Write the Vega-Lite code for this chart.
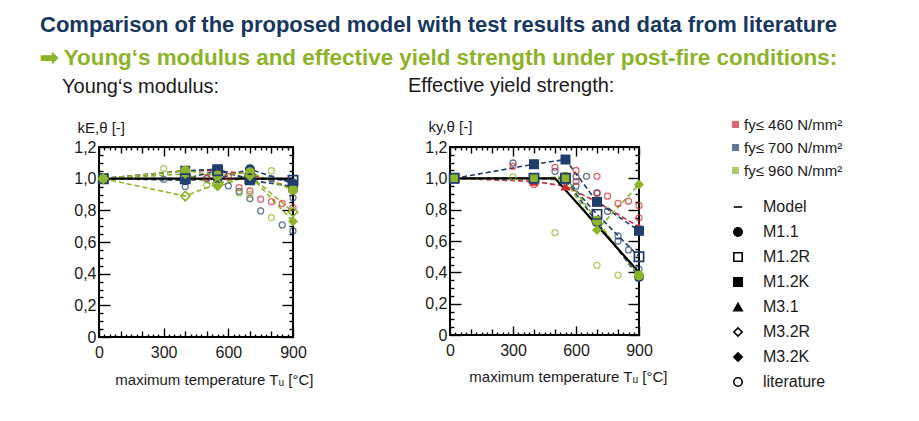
{
  "$schema": "https://vega.github.io/schema/vega-lite/v6.json",
  "background": "white",
  "padding": {"left": 40, "top": 14, "right": 5, "bottom": 5},
  "title": {
    "text": "Comparison of the proposed model with test results and data from literature",
    "subtitle": "➡ Young‘s modulus and effective yield strength under post-fire conditions:",
    "anchor": "start",
    "frame": "group",
    "dx": -59,
    "font": "Liberation Sans Narrow, Liberation Sans",
    "fontSize": 22,
    "fontWeight": "bold",
    "color": "#17375e",
    "subtitleFont": "Liberation Sans Narrow, Liberation Sans",
    "subtitleFontSize": 22.4,
    "subtitleFontWeight": "bold",
    "subtitleColor": "#8cb327",
    "subtitlePadding": 10,
    "offset": 4.5
  },
  "datasets": {
    "modelE": [{"T": 20, "k": 1.0, "type": "Model"}, {"T": 900, "k": 1.0, "type": "Model"}],
    "modelY": [{"T": 20, "k": 1.0, "type": "Model"}, {"T": 500, "k": 1.0, "type": "Model"}, {"T": 900, "k": 0.4, "type": "Model"}],
    "testE": [
      {"steel": "fy≤ 460 N/mm²", "type": "M3.1", "T": 20, "k": 1.0},
      {"steel": "fy≤ 460 N/mm²", "type": "M3.1", "T": 400, "k": 1.05},
      {"steel": "fy≤ 460 N/mm²", "type": "M3.1", "T": 550, "k": 1.05},
      {"steel": "fy≤ 460 N/mm²", "type": "M3.1", "T": 700, "k": 1.03},
      {"steel": "fy≤ 460 N/mm²", "type": "M3.1", "T": 900, "k": 0.94},
      {"steel": "fy≤ 700 N/mm²", "type": "M1.2K", "T": 20, "k": 1.0},
      {"steel": "fy≤ 700 N/mm²", "type": "M1.2K", "T": 400, "k": 1.05},
      {"steel": "fy≤ 700 N/mm²", "type": "M1.2K", "T": 550, "k": 1.06},
      {"steel": "fy≤ 700 N/mm²", "type": "M1.2K", "T": 700, "k": 0.99},
      {"steel": "fy≤ 700 N/mm²", "type": "M1.2K", "T": 900, "k": 0.95},
      {"steel": "fy≤ 700 N/mm²", "type": "M1.1", "T": 20, "k": 1.0},
      {"steel": "fy≤ 700 N/mm²", "type": "M1.1", "T": 400, "k": 0.99},
      {"steel": "fy≤ 700 N/mm²", "type": "M1.1", "T": 550, "k": 1.0},
      {"steel": "fy≤ 700 N/mm²", "type": "M1.1", "T": 700, "k": 1.06},
      {"steel": "fy≤ 700 N/mm²", "type": "M1.1", "T": 900, "k": 0.97},
      {"steel": "fy≤ 700 N/mm²", "type": "M1.2R", "T": 20, "k": 1.0},
      {"steel": "fy≤ 700 N/mm²", "type": "M1.2R", "T": 400, "k": 1.0},
      {"steel": "fy≤ 700 N/mm²", "type": "M1.2R", "T": 550, "k": 1.05},
      {"steel": "fy≤ 700 N/mm²", "type": "M1.2R", "T": 700, "k": 1.0},
      {"steel": "fy≤ 700 N/mm²", "type": "M1.2R", "T": 900, "k": 0.99},
      {"steel": "fy≤ 960 N/mm²", "type": "M3.2R", "T": 20, "k": 1.0},
      {"steel": "fy≤ 960 N/mm²", "type": "M3.2R", "T": 400, "k": 0.89},
      {"steel": "fy≤ 960 N/mm²", "type": "M3.2R", "T": 550, "k": 0.97},
      {"steel": "fy≤ 960 N/mm²", "type": "M3.2R", "T": 700, "k": 1.02},
      {"steel": "fy≤ 960 N/mm²", "type": "M3.2R", "T": 900, "k": 0.79},
      {"steel": "fy≤ 960 N/mm²", "type": "M3.2K", "T": 20, "k": 1.0},
      {"steel": "fy≤ 960 N/mm²", "type": "M3.2K", "T": 400, "k": 1.03},
      {"steel": "fy≤ 960 N/mm²", "type": "M3.2K", "T": 550, "k": 0.95},
      {"steel": "fy≤ 960 N/mm²", "type": "M3.2K", "T": 700, "k": 1.02},
      {"steel": "fy≤ 960 N/mm²", "type": "M3.2K", "T": 900, "k": 0.73},
      {"steel": "fy≤ 960 N/mm²", "type": "M1.1", "T": 20, "k": 1.0},
      {"steel": "fy≤ 960 N/mm²", "type": "M1.1", "T": 400, "k": 1.05},
      {"steel": "fy≤ 960 N/mm²", "type": "M1.1", "T": 550, "k": 1.02},
      {"steel": "fy≤ 960 N/mm²", "type": "M1.1", "T": 700, "k": 1.04},
      {"steel": "fy≤ 960 N/mm²", "type": "M1.1", "T": 900, "k": 0.93}
    ],
    "testY": [
      {"steel": "fy≤ 460 N/mm²", "type": "M3.1", "T": 20, "k": 1.0},
      {"steel": "fy≤ 460 N/mm²", "type": "M3.1", "T": 400, "k": 0.98},
      {"steel": "fy≤ 460 N/mm²", "type": "M3.1", "T": 550, "k": 0.95},
      {"steel": "fy≤ 460 N/mm²", "type": "M3.1", "T": 700, "k": 0.85},
      {"steel": "fy≤ 460 N/mm²", "type": "M3.1", "T": 900, "k": 0.69},
      {"steel": "fy≤ 700 N/mm²", "type": "M1.2K", "T": 20, "k": 1.0},
      {"steel": "fy≤ 700 N/mm²", "type": "M1.2K", "T": 400, "k": 1.09},
      {"steel": "fy≤ 700 N/mm²", "type": "M1.2K", "T": 550, "k": 1.12},
      {"steel": "fy≤ 700 N/mm²", "type": "M1.2K", "T": 700, "k": 0.85},
      {"steel": "fy≤ 700 N/mm²", "type": "M1.2K", "T": 900, "k": 0.665},
      {"steel": "fy≤ 700 N/mm²", "type": "M1.2R", "T": 20, "k": 1.0},
      {"steel": "fy≤ 700 N/mm²", "type": "M1.2R", "T": 400, "k": 1.0},
      {"steel": "fy≤ 700 N/mm²", "type": "M1.2R", "T": 550, "k": 1.0},
      {"steel": "fy≤ 700 N/mm²", "type": "M1.2R", "T": 700, "k": 0.77},
      {"steel": "fy≤ 700 N/mm²", "type": "M1.2R", "T": 900, "k": 0.5},
      {"steel": "fy≤ 700 N/mm²", "type": "M1.1", "T": 20, "k": 1.0},
      {"steel": "fy≤ 700 N/mm²", "type": "M1.1", "T": 400, "k": 1.0},
      {"steel": "fy≤ 700 N/mm²", "type": "M1.1", "T": 550, "k": 0.99},
      {"steel": "fy≤ 700 N/mm²", "type": "M1.1", "T": 700, "k": 0.72},
      {"steel": "fy≤ 700 N/mm²", "type": "M1.1", "T": 900, "k": 0.37},
      {"steel": "fy≤ 960 N/mm²", "type": "M1.1", "T": 20, "k": 1.0},
      {"steel": "fy≤ 960 N/mm²", "type": "M1.1", "T": 400, "k": 1.0},
      {"steel": "fy≤ 960 N/mm²", "type": "M1.1", "T": 550, "k": 1.01},
      {"steel": "fy≤ 960 N/mm²", "type": "M1.1", "T": 700, "k": 0.73},
      {"steel": "fy≤ 960 N/mm²", "type": "M1.1", "T": 900, "k": 0.38},
      {"steel": "fy≤ 960 N/mm²", "type": "M3.2K", "T": 20, "k": 1.0},
      {"steel": "fy≤ 960 N/mm²", "type": "M3.2K", "T": 400, "k": 1.0},
      {"steel": "fy≤ 960 N/mm²", "type": "M3.2K", "T": 550, "k": 0.99},
      {"steel": "fy≤ 960 N/mm²", "type": "M3.2K", "T": 700, "k": 0.67},
      {"steel": "fy≤ 960 N/mm²", "type": "M3.2K", "T": 900, "k": 0.96}
    ],
    "litE": [
      {"steel": "fy≤ 700 N/mm²", "type": "literature", "T": 300, "k": 0.996},
      {"steel": "fy≤ 700 N/mm²", "type": "literature", "T": 400, "k": 0.95},
      {"steel": "fy≤ 700 N/mm²", "type": "literature", "T": 400, "k": 0.99},
      {"steel": "fy≤ 700 N/mm²", "type": "literature", "T": 500, "k": 1.0},
      {"steel": "fy≤ 700 N/mm²", "type": "literature", "T": 600, "k": 0.955},
      {"steel": "fy≤ 700 N/mm²", "type": "literature", "T": 650, "k": 0.92},
      {"steel": "fy≤ 700 N/mm²", "type": "literature", "T": 700, "k": 0.874},
      {"steel": "fy≤ 700 N/mm²", "type": "literature", "T": 750, "k": 0.796},
      {"steel": "fy≤ 700 N/mm²", "type": "literature", "T": 800, "k": 1.0},
      {"steel": "fy≤ 700 N/mm²", "type": "literature", "T": 850, "k": 0.708},
      {"steel": "fy≤ 700 N/mm²", "type": "literature", "T": 900, "k": 0.88},
      {"steel": "fy≤ 700 N/mm²", "type": "literature", "T": 900, "k": 0.67},
      {"steel": "fy≤ 460 N/mm²", "type": "literature", "T": 500, "k": 1.006},
      {"steel": "fy≤ 460 N/mm²", "type": "literature", "T": 600, "k": 1.013},
      {"steel": "fy≤ 460 N/mm²", "type": "literature", "T": 650, "k": 0.943},
      {"steel": "fy≤ 460 N/mm²", "type": "literature", "T": 700, "k": 0.922},
      {"steel": "fy≤ 460 N/mm²", "type": "literature", "T": 750, "k": 0.87},
      {"steel": "fy≤ 460 N/mm²", "type": "literature", "T": 800, "k": 0.855},
      {"steel": "fy≤ 460 N/mm²", "type": "literature", "T": 850, "k": 0.843},
      {"steel": "fy≤ 460 N/mm²", "type": "literature", "T": 900, "k": 0.817},
      {"steel": "fy≤ 960 N/mm²", "type": "literature", "T": 300, "k": 1.065},
      {"steel": "fy≤ 960 N/mm²", "type": "literature", "T": 500, "k": 0.96},
      {"steel": "fy≤ 960 N/mm²", "type": "literature", "T": 650, "k": 0.91},
      {"steel": "fy≤ 960 N/mm²", "type": "literature", "T": 700, "k": 0.9},
      {"steel": "fy≤ 960 N/mm²", "type": "literature", "T": 800, "k": 0.754},
      {"steel": "fy≤ 960 N/mm²", "type": "literature", "T": 800, "k": 1.05}
    ],
    "litY": [
      {"steel": "fy≤ 700 N/mm²", "type": "literature", "T": 300, "k": 1.098},
      {"steel": "fy≤ 700 N/mm²", "type": "literature", "T": 500, "k": 1.045},
      {"steel": "fy≤ 700 N/mm²", "type": "literature", "T": 600, "k": 1.01},
      {"steel": "fy≤ 700 N/mm²", "type": "literature", "T": 600, "k": 0.95},
      {"steel": "fy≤ 700 N/mm²", "type": "literature", "T": 650, "k": 1.013},
      {"steel": "fy≤ 700 N/mm²", "type": "literature", "T": 700, "k": 0.907},
      {"steel": "fy≤ 700 N/mm²", "type": "literature", "T": 750, "k": 0.79},
      {"steel": "fy≤ 700 N/mm²", "type": "literature", "T": 800, "k": 0.632},
      {"steel": "fy≤ 700 N/mm²", "type": "literature", "T": 800, "k": 0.6},
      {"steel": "fy≤ 700 N/mm²", "type": "literature", "T": 850, "k": 0.543},
      {"steel": "fy≤ 700 N/mm²", "type": "literature", "T": 900, "k": 0.42},
      {"steel": "fy≤ 460 N/mm²", "type": "literature", "T": 300, "k": 1.077},
      {"steel": "fy≤ 460 N/mm²", "type": "literature", "T": 400, "k": 0.96},
      {"steel": "fy≤ 460 N/mm²", "type": "literature", "T": 400, "k": 0.99},
      {"steel": "fy≤ 460 N/mm²", "type": "literature", "T": 500, "k": 1.07},
      {"steel": "fy≤ 460 N/mm²", "type": "literature", "T": 600, "k": 1.05},
      {"steel": "fy≤ 460 N/mm²", "type": "literature", "T": 600, "k": 0.98},
      {"steel": "fy≤ 460 N/mm²", "type": "literature", "T": 700, "k": 1.013},
      {"steel": "fy≤ 460 N/mm²", "type": "literature", "T": 700, "k": 0.907},
      {"steel": "fy≤ 460 N/mm²", "type": "literature", "T": 750, "k": 0.886},
      {"steel": "fy≤ 460 N/mm²", "type": "literature", "T": 800, "k": 0.84},
      {"steel": "fy≤ 460 N/mm²", "type": "literature", "T": 850, "k": 0.854},
      {"steel": "fy≤ 460 N/mm²", "type": "literature", "T": 900, "k": 0.826},
      {"steel": "fy≤ 460 N/mm²", "type": "literature", "T": 900, "k": 0.748},
      {"steel": "fy≤ 960 N/mm²", "type": "literature", "T": 300, "k": 1.009},
      {"steel": "fy≤ 960 N/mm²", "type": "literature", "T": 500, "k": 0.653},
      {"steel": "fy≤ 960 N/mm²", "type": "literature", "T": 700, "k": 0.445},
      {"steel": "fy≤ 960 N/mm²", "type": "literature", "T": 800, "k": 0.382}
    ]
  },
  "spacing": 157,
  "bounds": "flush",
  "hconcat": [
    {
      "title": {"text": "Young‘s modulus:", "anchor": "start", "frame": "group", "dx": -37, "offset": 23, "fontSize": 20, "fontWeight": "normal", "color": "#1a1a1a", "font": "Liberation Sans"},
      "width": 194,
      "height": 190,
      "resolve": {"axis": {"x": "independent", "y": "independent"}},
      "layer": [
        {
          "data": {"name": "testE"},
          "mark": {"type": "line", "strokeDash": [5, 3], "strokeWidth": 1.6},
          "encoding": {
            "x": {"field": "T", "type": "quantitative", "scale": {"domain": [0, 900], "nice": false},
              "axis": {"orient": "bottom", "values": [0,25,50,75,100,125,150,175,200,225,250,275,300,325,350,375,400,425,450,475,500,525,550,575,600,625,650,675,700,725,750,775,800,825,850,875,900],
                "labelExpr": "datum.value % 300 === 0 ? datum.value : ''", "labelPadding": 16,
                "tickSize": {"condition": [{"test": "datum.value % 300 === 0", "value": -9}, {"test": "datum.value % 100 === 0", "value": -6}], "value": -3},
                "title": "maximum temperature Tᵤ [°C]", "titleAlign": "right", "titleAnchor": "start", "titleX": 214, "titleY": 47, "titleBaseline": "alphabetic"}},
            "y": {"field": "k", "type": "quantitative", "scale": {"domain": [0, 1.2], "nice": false},
              "axis": {"orient": "left", "values": [0,0.05,0.1,0.15,0.2,0.25,0.3,0.35,0.4,0.45,0.5,0.55,0.6,0.65,0.7,0.75,0.8,0.85,0.9,0.95,1,1.05,1.1,1.15,1.2],
                "labelExpr": "datum.value === 0 ? '0' : (round(datum.value*20) % 4 === 0 ? replace(format(datum.value, '.1f'), '.', ',') : '')", "labelPadding": 14,
                "tickSize": {"condition": {"test": "round(datum.value*20) % 4 === 0", "value": -11}, "value": -4},
                "title": "kE,θ [-]", "titleAngle": 0, "titleAlign": "left", "titleBaseline": "alphabetic", "titleX": -22, "titleY": -15}},
            "color": {"field": "steel", "type": "nominal"},
            "detail": {"field": "type"}
          }
        },
        {
          "data": {"name": "modelE"},
          "mark": {"type": "line", "color": "black", "strokeWidth": 2.2},
          "encoding": {
            "x": {"field": "T", "type": "quantitative", "axis": {"orient": "top", "labels": false, "title": null, "values": [0,25,50,75,100,125,150,175,200,225,250,275,300,325,350,375,400,425,450,475,500,525,550,575,600,625,650,675,700,725,750,775,800,825,850,875,900],
                "tickSize": {"condition": [{"test": "datum.value % 300 === 0", "value": -9}, {"test": "datum.value % 100 === 0", "value": -6}], "value": -3}}},
            "y": {"field": "k", "type": "quantitative", "axis": {"orient": "right", "labels": false, "title": null, "values": [0,0.05,0.1,0.15,0.2,0.25,0.3,0.35,0.4,0.45,0.5,0.55,0.6,0.65,0.7,0.75,0.8,0.85,0.9,0.95,1,1.05,1.1,1.15,1.2],
                "tickSize": {"condition": {"test": "round(datum.value*20) % 4 === 0", "value": -11}, "value": -4}}}
          }
        },
        {
          "data": {"name": "modelE"},
          "mark": {"type": "point", "opacity": 0, "filled": true, "size": 70},
          "encoding": {
            "x": {"field": "T", "type": "quantitative", "axis": null},
            "y": {"field": "k", "type": "quantitative", "axis": null},
            "shape": {"field": "type", "type": "nominal",
              "scale": {"domain": ["Model", "M1.1", "M1.2R", "M1.2K", "M3.1", "M3.2R", "M3.2K", "literature"], "range": ["stroke", "circle", "square", "square", "triangle-up", "diamond", "diamond", "circle"]},
              "legend": {"orient": "none", "legendX": 631, "legendY": 52, "title": null, "labelFontSize": 16, "labelFont": "Liberation Sans", "labelColor": "#1a1a1a", "rowPadding": 9, "labelOffset": 17, "symbolSize": 70, "symbolStrokeColor": "black", "symbolStrokeWidth": 1.6, "symbolOpacity": 1}},
            "fill": {"field": "type", "type": "nominal",
              "scale": {"domain": ["Model", "M1.1", "M1.2R", "M1.2K", "M3.1", "M3.2R", "M3.2K", "literature"], "range": ["transparent", "black", "transparent", "black", "black", "transparent", "black", "transparent"]},
              "legend": {"orient": "none", "legendX": 631, "legendY": 52, "title": null, "labelFontSize": 16, "labelFont": "Liberation Sans", "labelColor": "#1a1a1a", "rowPadding": 9, "labelOffset": 17, "symbolSize": 70, "symbolStrokeColor": "black", "symbolStrokeWidth": 1.6, "symbolOpacity": 1}},
            "stroke": {"field": "type", "type": "nominal",
              "scale": {"domain": ["Model", "M1.1", "M1.2R", "M1.2K", "M3.1", "M3.2R", "M3.2K", "literature"], "range": ["black", "black", "black", "black", "black", "black", "black", "black"]},
              "legend": {"orient": "none", "legendX": 631, "legendY": 52, "title": null, "labelFontSize": 16, "labelFont": "Liberation Sans", "labelColor": "#1a1a1a", "rowPadding": 9, "labelOffset": 17, "symbolSize": 70, "symbolStrokeColor": "black", "symbolStrokeWidth": 1.6, "symbolOpacity": 1}}
          }
        },
        {
          "data": {"name": "litE"},
          "mark": {"type": "point", "filled": false, "size": 36, "strokeWidth": 1.3, "opacity": 0.7},
          "encoding": {
            "x": {"field": "T", "type": "quantitative", "axis": null},
            "y": {"field": "k", "type": "quantitative", "axis": null},
            "color": {"field": "steel", "type": "nominal",
              "scale": {"domain": ["fy≤ 460 N/mm²", "fy≤ 700 N/mm²", "fy≤ 960 N/mm²"], "range": ["#d0282e", "#1f3d6d", "#8db52b"]},
              "legend": {"orient": "none", "legendX": 629, "legendY": -30, "title": null, "symbolType": "square", "symbolSize": 30, "labelFontSize": 15, "labelFont": "Liberation Sans", "labelColor": "#1a1a1a", "rowPadding": 7, "labelOffset": 1}},
            "shape": {"field": "type", "type": "nominal"}
          }
        },
        {
          "data": {"name": "testE"},
          "transform": [{"filter": {"field": "type", "oneOf": ["M1.1", "M1.2K", "M3.1", "M3.2K"]}}],
          "mark": {"type": "point", "filled": true, "size": 100, "opacity": 1},
          "encoding": {
            "x": {"field": "T", "type": "quantitative", "axis": null},
            "y": {"field": "k", "type": "quantitative", "axis": null},
            "color": {"field": "steel", "type": "nominal"},
            "shape": {"field": "type", "type": "nominal"}
          }
        },
        {
          "data": {"name": "testE"},
          "transform": [{"filter": {"field": "type", "oneOf": ["M1.2R", "M3.2R"]}}],
          "mark": {"type": "point", "filled": false, "size": 85, "strokeWidth": 1.7, "opacity": 1},
          "encoding": {
            "x": {"field": "T", "type": "quantitative", "axis": null},
            "y": {"field": "k", "type": "quantitative", "axis": null},
            "color": {"field": "steel", "type": "nominal"},
            "shape": {"field": "type", "type": "nominal"}
          }
        }
      ]
    },
    {
      "title": {"text": "Effective yield strength:", "anchor": "start", "frame": "group", "dx": -42, "offset": 23, "fontSize": 20, "fontWeight": "normal", "color": "#1a1a1a", "font": "Liberation Sans"},
      "width": 189,
      "height": 188,
      "resolve": {"axis": {"x": "independent", "y": "independent"}},
      "layer": [
        {
          "data": {"name": "testY"},
          "mark": {"type": "line", "strokeDash": [5, 3], "strokeWidth": 1.6},
          "encoding": {
            "x": {"field": "T", "type": "quantitative", "scale": {"domain": [0, 900], "nice": false},
              "axis": {"orient": "bottom", "values": [0,25,50,75,100,125,150,175,200,225,250,275,300,325,350,375,400,425,450,475,500,525,550,575,600,625,650,675,700,725,750,775,800,825,850,875,900],
                "labelExpr": "datum.value % 300 === 0 ? datum.value : ''", "labelPadding": 16,
                "tickSize": {"condition": [{"test": "datum.value % 300 === 0", "value": -9}, {"test": "datum.value % 100 === 0", "value": -6}], "value": -3},
                "title": "maximum temperature Tᵤ [°C]", "titleAlign": "right", "titleAnchor": "start", "titleX": 217, "titleY": 46, "titleBaseline": "alphabetic"}},
            "y": {"field": "k", "type": "quantitative", "scale": {"domain": [0, 1.2], "nice": false},
              "axis": {"orient": "left", "values": [0,0.05,0.1,0.15,0.2,0.25,0.3,0.35,0.4,0.45,0.5,0.55,0.6,0.65,0.7,0.75,0.8,0.85,0.9,0.95,1,1.05,1.1,1.15,1.2],
                "labelExpr": "datum.value === 0 ? '0' : (round(datum.value*20) % 4 === 0 ? replace(format(datum.value, '.1f'), '.', ',') : '')", "labelPadding": 14,
                "tickSize": {"condition": {"test": "round(datum.value*20) % 4 === 0", "value": -11}, "value": -4},
                "title": "ky,θ [-]", "titleAngle": 0, "titleAlign": "left", "titleBaseline": "alphabetic", "titleX": -22, "titleY": -16}},
            "color": {"field": "steel", "type": "nominal"},
            "detail": {"field": "type"}
          }
        },
        {
          "data": {"name": "modelY"},
          "mark": {"type": "line", "color": "black", "strokeWidth": 2.2},
          "encoding": {
            "x": {"field": "T", "type": "quantitative", "axis": {"orient": "top", "labels": false, "title": null, "values": [0,25,50,75,100,125,150,175,200,225,250,275,300,325,350,375,400,425,450,475,500,525,550,575,600,625,650,675,700,725,750,775,800,825,850,875,900],
                "tickSize": {"condition": [{"test": "datum.value % 300 === 0", "value": -9}, {"test": "datum.value % 100 === 0", "value": -6}], "value": -3}}},
            "y": {"field": "k", "type": "quantitative", "axis": {"orient": "right", "labels": false, "title": null, "values": [0,0.05,0.1,0.15,0.2,0.25,0.3,0.35,0.4,0.45,0.5,0.55,0.6,0.65,0.7,0.75,0.8,0.85,0.9,0.95,1,1.05,1.1,1.15,1.2],
                "tickSize": {"condition": {"test": "round(datum.value*20) % 4 === 0", "value": -11}, "value": -4}}}
          }
        },
        {
          "data": {"name": "litY"},
          "mark": {"type": "point", "filled": false, "size": 36, "strokeWidth": 1.3, "opacity": 0.7},
          "encoding": {
            "x": {"field": "T", "type": "quantitative", "axis": null},
            "y": {"field": "k", "type": "quantitative", "axis": null},
            "color": {"field": "steel", "type": "nominal"},
            "shape": {"field": "type", "type": "nominal"}
          }
        },
        {
          "data": {"name": "testY"},
          "transform": [{"filter": {"field": "type", "oneOf": ["M1.1", "M1.2K", "M3.1", "M3.2K"]}}],
          "mark": {"type": "point", "filled": true, "size": 100, "opacity": 1},
          "encoding": {
            "x": {"field": "T", "type": "quantitative", "axis": null},
            "y": {"field": "k", "type": "quantitative", "axis": null},
            "color": {"field": "steel", "type": "nominal"},
            "shape": {"field": "type", "type": "nominal"}
          }
        },
        {
          "data": {"name": "testY"},
          "transform": [{"filter": {"field": "type", "oneOf": ["M1.2R", "M3.2R"]}}],
          "mark": {"type": "point", "filled": false, "size": 85, "strokeWidth": 1.7, "opacity": 1},
          "encoding": {
            "x": {"field": "T", "type": "quantitative", "axis": null},
            "y": {"field": "k", "type": "quantitative", "axis": null},
            "color": {"field": "steel", "type": "nominal"},
            "shape": {"field": "type", "type": "nominal"}
          }
        }
      ]
    }
  ],
  "resolve": {"scale": {"color": "shared", "shape": "shared"}, "legend": {"color": "shared", "shape": "shared"}},
  "config": {
    "view": {"stroke": "black", "strokeWidth": 2},
    "axis": {"domain": false, "grid": false, "tickColor": "black", "tickWidth": 1.4, "labelFont": "Liberation Sans", "labelFontSize": 16, "labelColor": "#1a1a1a", "titleFont": "Liberation Sans", "titleFontSize": 15, "titleFontWeight": "normal", "titleColor": "#1a1a1a", "labelFlush": false, "labelOverlap": false}
  }
}
